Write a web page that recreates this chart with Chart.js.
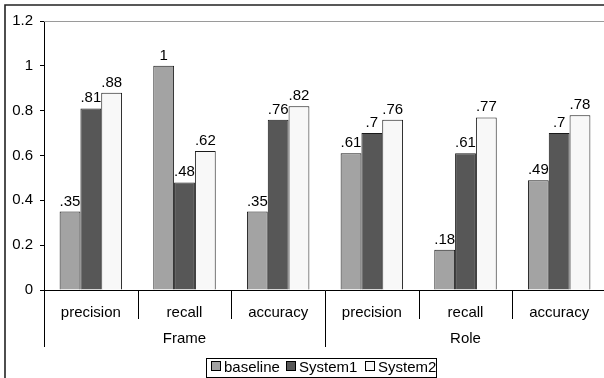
<!DOCTYPE html>
<html>
<head>
<meta charset="utf-8">
<script src="https://cdn.jsdelivr.net/npm/chart.js@4.4.1/dist/chart.umd.min.js"></script>
<style>
  html, body { margin: 0; padding: 0; background: #fff; overflow: hidden; }
  #wrap { position: relative; width: 612px; height: 378px; }
</style>
</head>
<body>
<div id="wrap"><canvas id="c" width="612" height="378"></canvas></div>
<script>
// Measures per evaluation group
const categories = ['precision', 'recall', 'accuracy', 'precision', 'recall', 'accuracy'];
const groups = ['Frame', 'Role'];
const groupSize = 3;

const baseline = [0.35, 1, 0.35, 0.61, 0.18, 0.49];
const system1  = [0.81, 0.48, 0.76, 0.7, 0.61, 0.7];
const system2  = [0.88, 0.62, 0.82, 0.76, 0.77, 0.78];

const seriesNames = ['baseline', 'System1', 'System2'];
const yTicks = [0, 0.2, 0.4, 0.6, 0.8, 1, 1.2];

const FONT = '"Liberation Sans", Arial, sans-serif';

function fmtValue(v) {
  const s = String(v);
  return s.startsWith('0.') ? s.slice(1) : s;
}

// Value labels above each bar
const valueLabels = {
  id: 'valueLabels',
  afterDatasetsDraw(chart) {
    const ctx = chart.ctx;
    ctx.save();
    ctx.font = '15px ' + FONT;
    ctx.fillStyle = '#000';
    ctx.textAlign = 'center';
    ctx.textBaseline = 'alphabetic';
    chart.data.datasets.forEach((ds, di) => {
      const meta = chart.getDatasetMeta(di);
      meta.data.forEach((bar, i) => {
        ctx.fillText(fmtValue(ds.data[i]), bar.x, bar.y - 6);
      });
    });
    ctx.restore();
  }
};

// Frame, plot top line, category separators, group labels and boxed legend
const decorations = {
  id: 'decorations',
  afterDraw(chart) {
    const ctx = chart.ctx;
    const x = chart.scales.x;
    const ca = chart.chartArea;
    const axisY = Math.round(ca.bottom) + 0.5;
    ctx.save();

    // outer frame
    ctx.strokeStyle = '#222';
    ctx.lineWidth = 1.6;
    ctx.beginPath();
    ctx.moveTo(5, 380);
    ctx.lineTo(5, 5);
    ctx.lineTo(640, 5);
    ctx.stroke();

    // plot area top edge
    ctx.strokeStyle = '#9a9a9a';
    ctx.lineWidth = 1;
    ctx.beginPath();
    ctx.moveTo(ca.left, Math.round(ca.top) + 0.5);
    ctx.lineTo(ca.right, Math.round(ca.top) + 0.5);
    ctx.stroke();

    // y axis continues down past the category rows
    ctx.strokeStyle = '#000';
    ctx.beginPath();
    ctx.moveTo(Math.round(ca.left) + 0.5, ca.bottom);
    ctx.lineTo(Math.round(ca.left) + 0.5, 347);
    ctx.stroke();

    // separators between categories
    const step = x.getPixelForValue(1) - x.getPixelForValue(0);
    for (let i = 1; i <= categories.length; i++) {
      const px = Math.round(x.getPixelForValue(i) - step / 2) + 0.5;
      const long = i % groupSize === 0;
      ctx.beginPath();
      ctx.moveTo(px, axisY);
      ctx.lineTo(px, long ? 347 : 319);
      ctx.stroke();
    }

    // group labels
    ctx.font = '15px ' + FONT;
    ctx.fillStyle = '#000';
    ctx.textAlign = 'center';
    ctx.textBaseline = 'alphabetic';
    groups.forEach((g, gi) => {
      const a = x.getPixelForValue(gi * groupSize);
      const b = x.getPixelForValue(gi * groupSize + groupSize - 1);
      ctx.fillText(g, (a + b) / 2, 343);
    });

    // legend
    const boxL = 206, boxT = 358, boxR = 437, boxB = 377;
    const swatchX = [211, 286, 365];
    ctx.fillStyle = '#fff';
    ctx.fillRect(boxL, boxT, boxR - boxL, boxB - boxT);
    ctx.strokeStyle = '#000';
    ctx.strokeRect(boxL + 0.5, boxT + 0.5, boxR - boxL - 1, boxB - boxT);
    ctx.textAlign = 'left';
    chart.data.datasets.forEach((ds, i) => {
      const lx = swatchX[i];
      ctx.fillStyle = ds.backgroundColor;
      ctx.fillRect(lx, 361, 9, 10);
      ctx.strokeStyle = '#000';
      ctx.strokeRect(lx + 0.5, 361.5, 9, 9);
      ctx.fillStyle = '#000';
      ctx.fillText(ds.label, lx + 13, 372);
    });

    ctx.restore();
  }
};

const colors = ['#a3a3a3', '#575757', '#f8f8f8'];
const seriesData = [baseline, system1, system2];

new Chart(document.getElementById('c'), {
  type: 'bar',
  data: {
    labels: categories,
    datasets: seriesNames.map((name, i) => ({
      label: name,
      data: seriesData[i],
      backgroundColor: colors[i],
      borderColor: '#1a1a1a',
      borderWidth: 1,
      categoryPercentage: 2 / 3,
      barPercentage: 1
    }))
  },
  options: {
    responsive: false,
    animation: false,
    devicePixelRatio: 1,
    layout: { padding: { top: 21, right: 6, left: 0, bottom: 0 } },
    plugins: {
      legend: { display: false },
      tooltip: { enabled: false }
    },
    scales: {
      x: {
        grid: { display: false },
        border: { display: true, color: '#000', width: 1 },
        ticks: {
          color: '#000',
          font: { family: FONT, size: 15 },
          padding: 6,
          maxRotation: 0,
          autoSkip: false
        },
        afterFit(scale) { scale.height = 88; }
      },
      y: {
        min: 0,
        max: 1.2,
        afterBuildTicks(scale) { scale.ticks = yTicks.map(v => ({ value: v })); },
        grid: { drawOnChartArea: false, drawTicks: true, tickLength: 4, color: '#000' },
        border: { display: true, color: '#000', width: 1 },
        ticks: {
          color: '#000',
          font: { family: FONT, size: 15 },
          padding: 7,
          callback: (v) => String(v)
        },
        afterFit(scale) { scale.width = 44; }
      }
    }
  },
  plugins: [valueLabels, decorations]
});
</script>
</body>
</html>
